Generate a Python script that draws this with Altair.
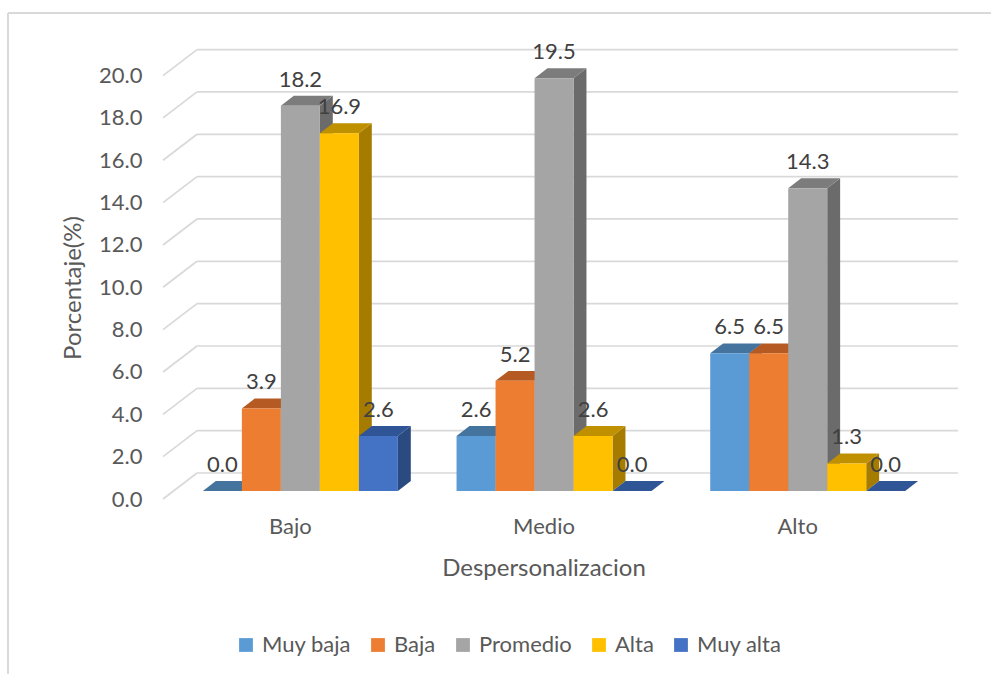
import altair as alt
import pandas as pd

# ---------------- data ----------------
categories = ["Bajo", "Medio", "Alto"]
series = ["Muy baja", "Baja", "Promedio", "Alta", "Muy alta"]
muy_baja = [0.0, 2.6, 6.5]
baja = [3.9, 5.2, 6.5]
promedio = [18.2, 19.5, 14.3]
alta = [16.9, 2.6, 1.3]
muy_alta = [2.6, 0.0, 0.0]
series_values = [muy_baja, baja, promedio, alta, muy_alta]
y_ticks = [0, 2, 4, 6, 8, 10, 12, 14, 16, 18, 20]

# ---------------- style ----------------
front_colors = ["#5B9BD5", "#ED7D31", "#A5A5A5", "#FFC000", "#4472C4"]
top_colors = ["#44739E", "#B55A22", "#7C7C7C", "#BF9000", "#2F5597"]
side_colors = ["#3B6690", "#9E4E1B", "#6B6B6B", "#A67C00", "#2A4A80"]
FONT = "Lato"
TXT = "#595959"

# ---------------- geometry (plot units) ----------------
W, H = 795, 449                 # plot area in px
PX_X = 253.67                   # px per category unit (front plane)
PX_Y = 21.17                    # px per percentage point
XMAX = W / PX_X
YMAX = H / PX_Y
DX = 34 / PX_X                  # depth of the floor (x)
DY = 26 / PX_Y                  # depth of the floor (y)
F0, FD = 0.31, 0.38             # bar front position / bar depth (fractions)
BW = 39 / PX_X                  # bar width
SX, SY = F0 * DX, F0 * DY
TX, TY = FD * DX, FD * DY

front, tops, sides = [], [], []
bid = 0
for ci, cat in enumerate(categories):
    for si, s in enumerate(series):
        v = series_values[si][ci]
        x0 = ci + 0.5 - 2.5 * BW + si * BW + SX
        x1 = x0 + BW
        front.append(dict(id=bid, cat=cat, series=s, value=v, x0=x0, x1=x1,
                          xc=(x0 + x1) / 2, y0=SY, y1=v + SY))
        tops.append(dict(id=bid, series=s, yy=v + SY, xa=x0, xb=x1))
        tops.append(dict(id=bid, series=s, yy=v + SY + TY, xa=x0 + TX, xb=x1 + TX))
        sides.append(dict(id=bid, series=s, xx=x1, ya=SY, yb=v + SY))
        sides.append(dict(id=bid, series=s, xx=x1 + TX, ya=SY + TY, yb=v + SY + TY))
        bid += 1

front_df = pd.DataFrame(front)
top_df = pd.DataFrame(tops)
side_df = pd.DataFrame(sides)
grid_df = pd.DataFrame(dict(v=y_ticks))
grid_df["gx0"] = 0.0
grid_df["gx1"] = DX
grid_df["gx2"] = XMAX
grid_df["gyb"] = grid_df["v"] + DY

xs = alt.Scale(domain=[0, XMAX], nice=False, zero=False)
ys = alt.Scale(domain=[0, YMAX], nice=False, zero=False)

label_expr = " : ".join(
    [f"datum.value < {i + 1} ? '{c}'" for i, c in enumerate(categories[:-1])]
    + [f"'{categories[-1]}'"]
)

x_axis = alt.Axis(values=[0.5, 1.5, 2.5], labelExpr=label_expr, domain=False,
                  ticks=False, grid=False, labelFont=FONT, labelFontSize=22,
                  labelColor=TXT, labelPadding=17, title="Despersonalizacion",
                  titleFont=FONT, titleFontSize=24, titleFontWeight="normal",
                  titleColor=TXT, titleX=380.5, titleY=69, titleAlign="center",
                  titleBaseline="middle", titleAnchor="start")
y_axis = alt.Axis(values=y_ticks, format=".1f", domain=False, ticks=False,
                  grid=False, labelFont=FONT, labelFontSize=22, labelColor=TXT,
                  labelPadding=21, title="Porcentaje(%)", titleFont=FONT,
                  titleFontSize=24, titleFontWeight="normal", titleColor=TXT,
                  titleX=-90, titleY=237.5, titleAngle=270, titleAlign="center",
                  titleBaseline="middle", titleAnchor="start")

frame_left = alt.Chart(grid_df).mark_rule(color="#D9D9D9", strokeWidth=1.5).encode(
    x=alt.value(-155), y=alt.value(-37), y2=alt.value(640))
frame_top = alt.Chart(grid_df).mark_rule(color="#D9D9D9", strokeWidth=1.5).encode(
    x=alt.value(-155), x2=alt.value(840), y=alt.value(-37))

grid_diag = alt.Chart(grid_df).mark_rule(color="#D9D9D9", strokeWidth=1.7).encode(
    x=alt.X("gx0:Q", scale=xs, axis=x_axis), x2="gx1:Q",
    y=alt.Y("v:Q", scale=ys, axis=y_axis), y2="gyb:Q")
grid_h = alt.Chart(grid_df).mark_rule(color="#D9D9D9", strokeWidth=1.7).encode(
    x=alt.X("gx1:Q", scale=xs, axis=x_axis), x2="gx2:Q",
    y=alt.Y("gyb:Q", scale=ys, axis=y_axis))

side = alt.Chart(side_df).mark_area(orient="vertical", interpolate="linear").encode(
    x=alt.X("xx:Q", scale=xs, axis=x_axis),
    y=alt.Y("ya:Q", scale=ys, axis=y_axis), y2="yb:Q",
    detail="id:N",
    color=alt.Color("series:N", scale=alt.Scale(domain=series, range=side_colors), legend=None))

top = alt.Chart(top_df).mark_area(orient="horizontal", interpolate="linear").encode(
    y=alt.Y("yy:Q", scale=ys, axis=y_axis),
    x=alt.X("xa:Q", scale=xs, axis=x_axis), x2="xb:Q",
    detail="id:N",
    color=alt.Color("series:N", scale=alt.Scale(domain=series, range=top_colors), legend=None))

bars = alt.Chart(front_df).mark_rect().encode(
    x=alt.X("x0:Q", scale=xs, axis=x_axis),
    x2="x1:Q",
    y=alt.Y("y0:Q", scale=ys, axis=y_axis),
    y2="y1:Q",
    color=alt.Color("series:N", scale=alt.Scale(domain=series, range=front_colors),
                    legend=alt.Legend(title=None, orient="none", direction="horizontal",
                                      legendX=72, legendY=584, symbolType="square",
                                      symbolSize=190, symbolStrokeWidth=0,
                                      labelFont=FONT, labelFontSize=22, labelColor=TXT,
                                      columnPadding=16, labelOffset=5)))

labels = alt.Chart(front_df).mark_text(font=FONT, fontSize=22, color="#404040",
                                       baseline="middle", dy=-26).encode(
    x=alt.X("xc:Q", scale=xs, axis=x_axis),
    y=alt.Y("y1:Q", scale=ys, axis=y_axis),
    text=alt.Text("value:Q", format=".1f"))

chart = alt.layer(grid_diag, grid_h, frame_left, frame_top, side, top, bars, labels).resolve_scale(
    color="independent"
).properties(
    width=W, height=H,
    autosize=alt.AutoSizeParams(type="none"),
    padding={"left": 163, "top": 50, "right": 33, "bottom": 175},
    background="white",
).configure_view(stroke=None)

chart.save("out.html", embed_options={"renderer": "svg", "actions": False})
